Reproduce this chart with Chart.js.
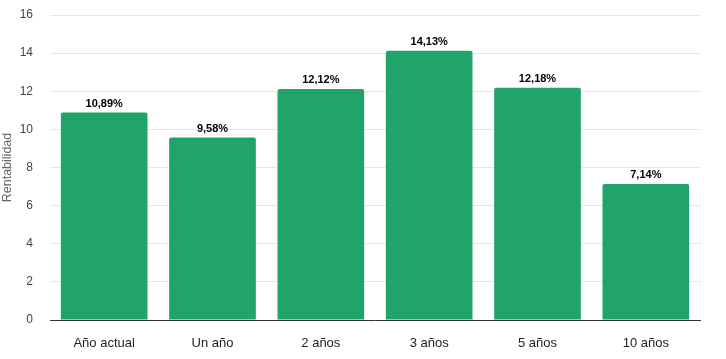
<!DOCTYPE html>
<html>
<head>
<meta charset="utf-8">
<script src="https://cdn.jsdelivr.net/npm/chart.js@4/dist/chart.umd.min.js"></script>
<style>
html,body{margin:0;padding:0;background:#fff;}
#wrap{width:726px;height:359px;position:relative;}
</style>
</head>
<body>
<div id="wrap"><canvas id="c"></canvas></div>
<script>
const categories = ['Año actual', 'Un año', '2 años', '3 años', '5 años', '10 años'];
const rentabilidad = [10.89, 9.58, 12.12, 14.13, 12.18, 7.14];
const yTicks = [0, 2, 4, 6, 8, 10, 12, 14, 16];

const labelPlugin = {
  id: 'valueLabels',
  afterDatasetsDraw(chart) {
    const ctx = chart.ctx;
    const meta = chart.getDatasetMeta(0);
    ctx.save();
    ctx.font = 'bold 11px Arial, "Liberation Sans", sans-serif';
    ctx.fillStyle = '#000';
    ctx.textAlign = 'center';
    ctx.textBaseline = 'bottom';
    meta.data.forEach((bar, i) => {
      const txt = rentabilidad[i].toFixed(2).replace('.', ',') + '%';
      ctx.fillText(txt, bar.x, bar.y - 3);
    });
    ctx.restore();
  }
};

new Chart(document.getElementById('c'), {
  type: 'bar',
  data: {
    labels: categories,
    datasets: [{
      data: rentabilidad,
      backgroundColor: '#21a469',
      borderRadius: {topLeft: 2, topRight: 2, bottomLeft: 0, bottomRight: 0},
      borderSkipped: 'bottom',
      barPercentage: 0.8,
      categoryPercentage: 1.0
    }]
  },
  options: {
    responsive: true,
    maintainAspectRatio: false,
    animation: false,
    layout: {padding: {top: 15, right: 26, left: 0, bottom: 0}},
    plugins: {legend: {display: false}, tooltip: {enabled: false}},
    scales: {
      x: {
        grid: {display: false, drawTicks: false},
        border: {display: true, color: '#333', width: 1},
        ticks: {color: '#222', font: {family: 'Arial, "Liberation Sans", sans-serif', size: 13}, padding: 16},
        afterFit(s) { s.height = 39; s.paddingLeft = 0; s.paddingRight = 0; }
      },
      y: {
        min: 0, max: 16,
        afterBuildTicks(s) { s.ticks = yTicks.map(v => ({value: v})); },
        grid: {color: '#e6e6e6', drawTicks: false},
        border: {display: false},
        ticks: {color: '#444', font: {family: 'Arial, "Liberation Sans", sans-serif', size: 12}, padding: 17},
        title: {display: true, text: 'Rentabilidad', color: '#666', font: {family: 'Arial, "Liberation Sans", sans-serif', size: 12.5}, padding: 0},
        afterFit(s) { s.width = 50; s.paddingTop = 0; s.paddingBottom = 0; }
      }
    }
  },
  plugins: [labelPlugin]
});
</script>
</body>
</html>
